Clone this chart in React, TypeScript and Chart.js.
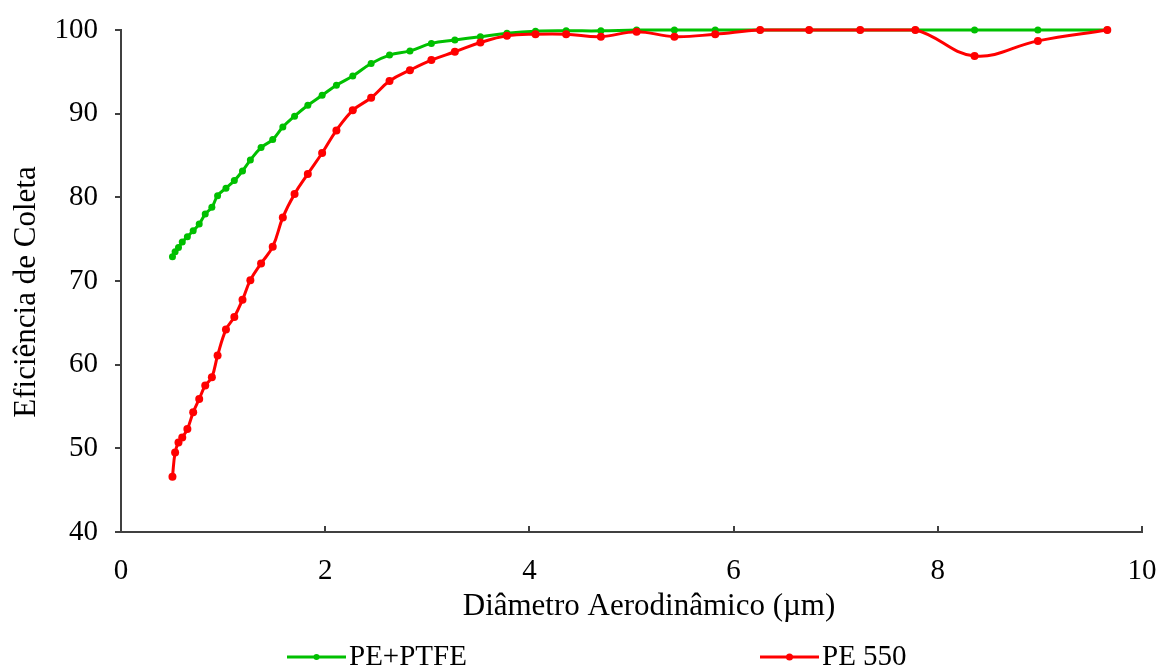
import React, { useEffect, useRef } from "react";
import { Chart, registerables } from "chart.js";

Chart.register(...registerables);

const diameters = [
  0.504, 0.53, 0.563, 0.6, 0.65, 0.707, 0.766, 0.825, 0.89, 0.946,
  1.028, 1.11, 1.19, 1.267, 1.372, 1.486, 1.585, 1.7, 1.83, 1.97,
  2.11, 2.27, 2.45, 2.63, 2.83, 3.04, 3.27, 3.52, 3.78, 4.06,
  4.36, 4.7, 5.05, 5.42, 5.82, 6.26, 6.74, 7.24, 7.78, 8.36,
  8.98, 9.66,
];

const pePtfe = [
  72.9, 73.5, 74.0, 74.65, 75.3, 76.0, 76.8, 78.0, 78.8, 80.2,
  81.1, 82.0, 83.15, 84.45, 85.95, 86.9, 88.4, 89.7, 91.0, 92.2,
  93.4, 94.5, 96.0, 97.0, 97.5, 98.4, 98.8, 99.2, 99.6, 99.85,
  99.9, 99.9, 100, 100, 100, 100, 100, 100, 100, 100,
  100, 100,
];

const pe550 = [
  46.6, 49.5, 50.7, 51.3, 52.3, 54.3, 55.9, 57.5, 58.5, 61.1,
  64.2, 65.7, 67.75, 70.1, 72.1, 74.1, 77.6, 80.4, 82.8, 85.3,
  88.0, 90.4, 91.9, 93.9, 95.2, 96.4, 97.4, 98.5, 99.3, 99.5,
  99.5, 99.2, 99.8, 99.2, 99.5, 100, 100, 100, 100, 96.9,
  98.7, 100,
];

const seriesNames = ["PE+PTFE", "PE 550"];
const seriesColors = ["#00c000", "#ff0000"];
const xTitle = "Diâmetro Aerodinâmico (µm)";
const yTitle = "Eficiência de Coleta";

const FONT = "'Liberation Serif', 'Times New Roman', serif";
const AXIS = "#404040";

const extrasPlugin = {
  id: "extras",
  afterDraw(chart: any) {
    const ctx = chart.ctx;
    const xs = chart.scales.x;
    const area = chart.chartArea;
    ctx.save();
    // inward x ticks
    ctx.strokeStyle = AXIS;
    ctx.lineWidth = 2;
    xs.ticks.forEach((t: any) => {
      const px = Math.round(xs.getPixelForValue(t.value));
      ctx.beginPath();
      ctx.moveTo(px, area.bottom);
      ctx.lineTo(px, area.bottom - 6);
      ctx.stroke();
    });
    // axis titles
    ctx.fillStyle = "#000";
    ctx.font = `31px ${FONT}`;
    ctx.textAlign = "center";
    ctx.textBaseline = "middle";
    ctx.fillText(xTitle, 649, 607);
    ctx.save();
    ctx.translate(27, 292);
    ctx.rotate(-Math.PI / 2);
    ctx.fillText(yTitle, 0, 0);
    ctx.restore();
    // legend
    const items = [
      { x: 287, name: seriesNames[0], color: seriesColors[0], r: 3 },
      { x: 760, name: seriesNames[1], color: seriesColors[1], r: 3.5 },
    ];
    const y = 657;
    ctx.font = `29px ${FONT}`;
    ctx.textBaseline = "middle";
    ctx.textAlign = "left";
    items.forEach((it) => {
      ctx.strokeStyle = it.color;
      ctx.lineWidth = 3;
      ctx.beginPath();
      ctx.moveTo(it.x, y);
      ctx.lineTo(it.x + 59, y);
      ctx.stroke();
      ctx.fillStyle = it.color;
      ctx.beginPath();
      ctx.arc(it.x + 29.5, y, it.r, 0, Math.PI * 2);
      ctx.fill();
      ctx.fillStyle = "#000";
      ctx.fillText(it.name, it.x + 62, y);
    });
    ctx.restore();
  },
};

const zeroPad = (s: any) => {
  s.paddingTop = 0;
  s.paddingBottom = 0;
  s.paddingLeft = 0;
  s.paddingRight = 0;
};

export default function App() {
  const ref = useRef<HTMLCanvasElement | null>(null);

  useEffect(() => {
    const canvas = ref.current;
    if (!canvas) return;
    const chart = new Chart(canvas, {
      type: "line",
      data: {
        datasets: [
          {
            label: seriesNames[0],
            data: diameters.map((d, i) => ({ x: d, y: pePtfe[i] })),
            borderColor: seriesColors[0],
            backgroundColor: seriesColors[0],
            borderWidth: 3,
            pointRadius: 3.5,
            pointBorderWidth: 0,
            tension: 0.4,
            clip: 8,
            order: 1,
          },
          {
            label: seriesNames[1],
            data: diameters.map((d, i) => ({ x: d, y: pe550[i] })),
            borderColor: seriesColors[1],
            backgroundColor: seriesColors[1],
            borderWidth: 3,
            pointRadius: 4,
            pointBorderWidth: 0,
            tension: 0.4,
            clip: 8,
            order: 0,
          },
        ],
      },
      options: {
        animation: false,
        responsive: false,
        layout: { padding: { left: 0, right: 17, top: 30, bottom: 0 } },
        plugins: {
          legend: { display: false },
          tooltip: { enabled: false },
        },
        scales: {
          x: {
            type: "linear",
            min: 0,
            max: 10,
            ticks: {
              stepSize: 2,
              color: "#000",
              padding: 14,
              font: { family: FONT, size: 29 },
            },
            grid: { display: false },
            border: { display: true, color: AXIS, width: 2 },
            afterFit: (s: any) => {
              s.height = 138;
              zeroPad(s);
            },
          },
          y: {
            type: "linear",
            min: 40,
            max: 100,
            ticks: {
              stepSize: 10,
              color: "#000",
              padding: 17,
              font: { family: FONT, size: 29 },
            },
            grid: {
              display: true,
              drawOnChartArea: false,
              drawTicks: true,
              tickLength: 6,
              color: AXIS,
              lineWidth: 2,
            },
            border: { display: true, color: AXIS, width: 2 },
            afterFit: (s: any) => {
              s.width = 121;
              zeroPad(s);
            },
          },
        },
      },
      plugins: [extrasPlugin],
    });
    return () => chart.destroy();
  }, []);

  return (
    <div style={{ position: "fixed", left: 0, top: 0, width: 1159, height: 670, background: "#fff" }}>
      <canvas ref={ref} width={1159} height={670} style={{ width: 1159, height: 670, display: "block" }} />
    </div>
  );
}
